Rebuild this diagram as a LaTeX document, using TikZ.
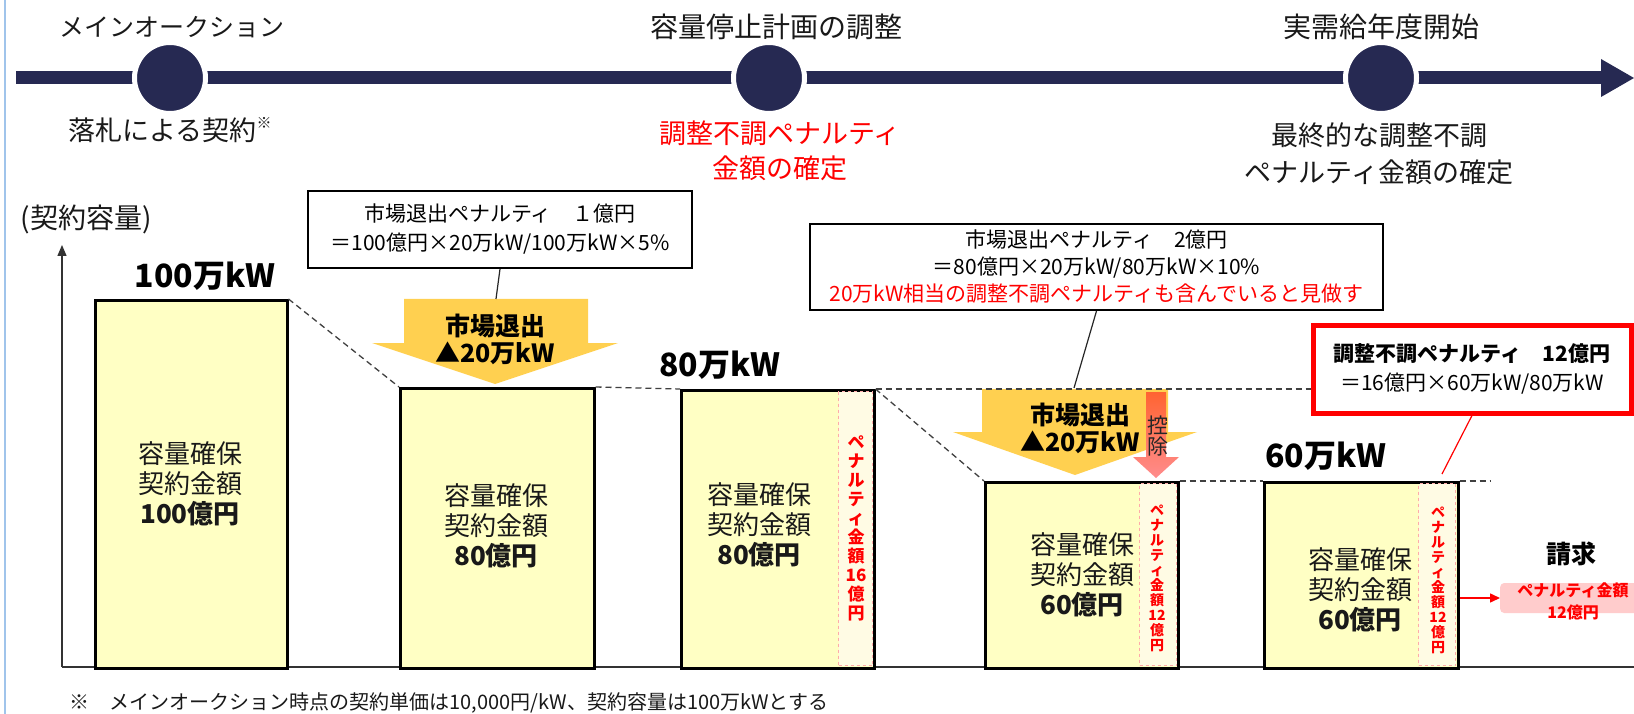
\documentclass[tikz,border=0pt]{standalone}
\usepackage{fontspec}
\setmainfont{Noto Sans CJK JP}
\usetikzlibrary{arrows.meta}
\definecolor{navy}{RGB}{38,41,82}
\definecolor{barfill}{RGB}{255,255,196}
\definecolor{stripfill}{RGB}{255,251,228}
\definecolor{stripline}{RGB}{255,170,170}
\definecolor{gold}{RGB}{255,208,80}
\definecolor{pinkbox}{RGB}{255,204,204}
\definecolor{edgeblue}{RGB}{160,196,235}
\definecolor{redtxt}{RGB}{255,0,0}
\definecolor{kojotop}{RGB}{255,100,50}
\definecolor{kojobot}{RGB}{255,140,140}
\newcommand\fs[2]{\fontsize{#1}{#2}\selectfont}
\begin{document}
\begin{tikzpicture}[x=1pt,y=-1pt,
  dot/.style={circle,fill=navy,draw=white,line width=5pt,minimum size=71pt,inner sep=0},
  tltext/.style={font=\fs{27}{36},text=black!90,align=center},
  bar/.style={draw=black,line width=2.5pt,fill=barfill,anchor=north west,inner sep=0},
  strip/.style={draw=stripline,dashed,line width=1.2pt,fill=stripfill,anchor=north west,inner sep=0},
  bartext/.style={font=\fs{26}{30},align=center,text=black!90},
  caplabel/.style={font=\fs{32}{32}\bfseries},
  callout/.style={draw=black,line width=2pt,fill=white,align=center,inner sep=0,font=\fs{21}{29}},
  vtext/.style={font=\fs{17}{19}\bfseries,text=redtxt,align=center,inner sep=0},
  vtexts/.style={font=\fs{14}{15}\bfseries,text=redtxt,align=center,inner sep=0},
  arrtext/.style={font=\fs{25}{27}\bfseries,align=center,text=black},
  guideline/.style={dash pattern=on 6pt off 4pt,line width=1.3pt,black!75},
  leader/.style={line width=1.2pt,black!85}
]
\useasboundingbox (0,0) rectangle (1634,714);
\fill[white] (0,0) rectangle (1634,714);
\draw[edgeblue,line width=2pt] (5,0) -- (5,714);

% ---------- timeline ----------
\coordinate (tlstart) at (16,78);
\coordinate (tlend) at (1601,78);
\draw[navy,line width=13pt] (tlstart) -- (tlend);
\fill[navy] (1601,59) -- (1634,78) -- (1601,97) -- cycle;
\node[dot] (d1) at (170,78) {};
\node[dot] (d2) at (769,78) {};
\node[dot] (d3) at (1381,78) {};
\node[tltext,font=\fs{25}{34}] (t1) at (172,27) {メインオークション};
\node[tltext,font=\fs{28}{36}] (t2) at (776,27) {容量停止計画の調整};
\node[tltext,font=\fs{28}{36}] (t3) at (1381,27) {実需給年度開始};
\node[tltext] (u1) at (170,130) {落札による契約\raisebox{0.45em}{\fs{15}{15}※}};
\node[tltext,text=redtxt,font=\fs{27}{35}] (u2) at (780,150.5) {調整不調ペナルティ\\金額の確定};
\node[tltext,font=\fs{27}{37}] (u3) at (1379,153.5) {最終的な調整不調\\ペナルティ金額の確定};

% ---------- axes ----------
\node[font=\fs{28}{30},text=black!90] (ylabel) at (86,219) {(契約容量)};
\coordinate (origin) at (62,667);
\coordinate (ytop) at (62,245);
\coordinate (xend) at (1634,667);
\draw[black!80,line width=1.5pt,-{Triangle[width=9pt,length=11pt]}] (origin) -- (ytop);
\draw[black!80,line width=1.5pt] (origin) -- (xend);

% ---------- bars ----------
\node[bar,minimum width=192pt,minimum height=368pt] (b1) at (94,299) {};
\node[bar,minimum width=194pt,minimum height=280pt] (b2) at (399,387) {};
\node[bar,minimum width=193pt,minimum height=278pt] (b3) at (680,389) {};
\node[strip,minimum width=34pt,minimum height=274pt] (s3) at (838,391) {};
\node[bar,minimum width=193pt,minimum height=186pt] (b4) at (984,481) {};
\node[strip,minimum width=37pt,minimum height=182pt] (s4) at (1139,483) {};
\node[bar,minimum width=194pt,minimum height=186pt] (b5) at (1263,481) {};
\node[strip,minimum width=37pt,minimum height=182pt] (s5) at (1418,483) {};

\node[bartext] (bt1) at (190,484) {容量確保\\契約金額\\\textbf{100億円}};
\node[bartext] (bt2) at (496,526) {容量確保\\契約金額\\\textbf{80億円}};
\node[bartext] (bt3) at (759,525) {容量確保\\契約金額\\\textbf{80億円}};
\node[bartext] (bt4) at (1082,575) {容量確保\\契約金額\\\textbf{60億円}};
\node[bartext] (bt5) at (1360,590) {容量確保\\契約金額\\\textbf{60億円}};

\node[vtext] (v3) at (856,528) {ペ\\ナ\\ル\\テ\\ィ\\金\\額\\16\\億\\円};
\node[vtexts] (v4) at (1157,578) {ペ\\ナ\\ル\\テ\\ィ\\金\\額\\12\\億\\円};
\node[vtexts] (v5) at (1438,580) {ペ\\ナ\\ル\\テ\\ィ\\金\\額\\12\\億\\円};

\node[caplabel] (c1) at (205,276) {100万kW};
\node[caplabel] (c3) at (720,365) {80万kW};
\node[caplabel] (c5) at (1326,456) {60万kW};

% ---------- block arrows ----------
\fill[gold] (404,299) -- (588,299) -- (588,343) -- (618,343) -- (495,384) -- (372,343) -- (404,343) -- cycle;
\coordinate (a1top) at (496,299);
\node[arrtext] (a1t) at (495,339) {市場退出\\▲20万kW};

\fill[gold] (982,389) -- (1168,389) -- (1168,432) -- (1197,432) -- (1075,475) -- (953,432) -- (982,432) -- cycle;
\coordinate (a2top) at (1074,388);
\node[arrtext] (a2t) at (1080,428) {市場退出\\▲20万kW};

\shade[top color=kojotop,bottom color=kojobot] (1146,392) -- (1166,392) -- (1166,457) -- (1179,457) -- (1156,478) -- (1133,457) -- (1146,457) -- cycle;
\node[font=\fs{21}{21},align=center,inner sep=0,text=black!85] (kj) at (1158,436) {控\\除};

% ---------- dashed guide lines ----------
\draw[guideline] (b1.north east) -- (b2.north west);
\draw[guideline] (b2.north east) -- (b3.north west);
\coordinate (dashend1) at (1312,389);
\draw[guideline] (b3.north east) -- (dashend1);
\draw[guideline] (b3.north east) -- (b4.north west);
\draw[guideline] (b4.north east) -- (b5.north west);
\coordinate (dashend2) at (1490,481);
\draw[guideline] (b5.north east) -- (dashend2);

% ---------- callouts ----------
\node[callout,minimum width=384pt,minimum height=77pt] (cb1) at (500,229.5)
  {市場退出ペナルティ　１億円\\＝100億円×20万kW/100万kW×5\%};
\draw[leader] (cb1.south) -- (a1top);

\node[callout,minimum width=573pt,minimum height=86pt,font=\fs{21}{27}] (cb2) at (1096.5,267)
  {市場退出ペナルティ　2億円\\＝80億円×20万kW/80万kW×10\%\\\textcolor{redtxt}{20万kW相当の調整不調ペナルティも含んでいると見做す}};
\draw[leader] (cb2.south) -- (a2top);

\node[callout,draw=redtxt,line width=5pt,minimum width=318pt,minimum height=88pt] (rb) at (1472,369)
  {\textbf{調整不調ペナルティ　12億円}\\＝16億円×60万kW/80万kW};
\coordinate (s5top) at (1442,474);
\draw[redtxt,line width=1.2pt] (rb.south) -- (s5top);

% ---------- billing ----------
\node[font=\fs{25}{27}\bfseries] (seikyu) at (1571,554) {請求};
\node[fill=pinkbox,rounded corners=4pt,minimum width=145pt,minimum height=30pt,inner sep=0,anchor=west] (pbox) at (1500,598) {};
\node[font=\fs{16}{22}\bfseries,text=redtxt,align=center] (ptext) at (1573,601) {ペナルティ金額\\12億円};
\draw[redtxt,line width=1.5pt,-{Triangle[width=9pt,length=10pt]}] (b5.east |- pbox.west) -- (pbox.west);

% ---------- footnote ----------
\node[font=\fs{20}{22},anchor=west,text=black!90] (fn) at (66,703)
  {※　メインオークション時点の契約単価は10,000円/kW、契約容量は100万kWとする};
\end{tikzpicture}
\end{document}
